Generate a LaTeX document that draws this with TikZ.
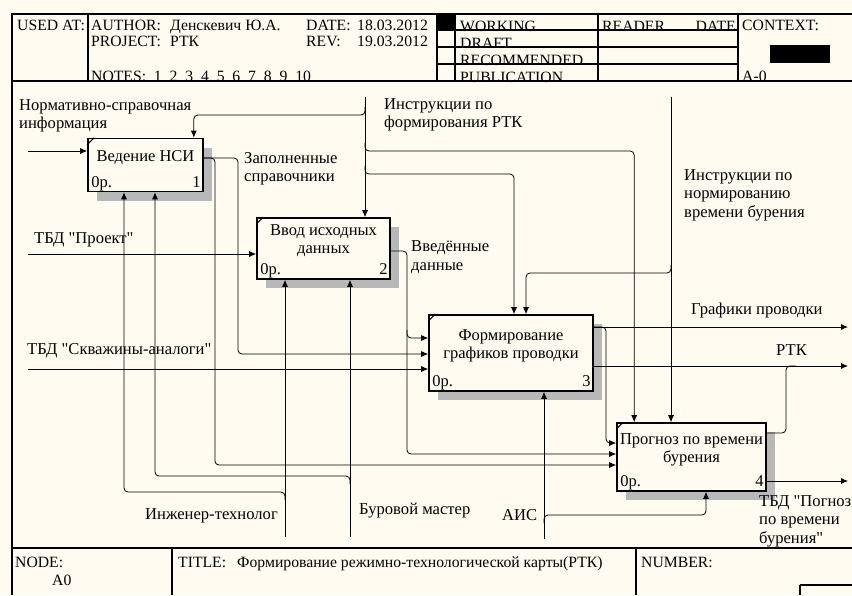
\documentclass[tikz,border=0pt]{standalone}
\usepackage{fontspec}
\setmainfont{Liberation Serif}[Ligatures=TeXOff]
\usetikzlibrary{arrows.meta,shadows}
\definecolor{paper}{RGB}{255,251,240}

\begin{document}
\begin{tikzpicture}[x=1pt,y=-1pt,
    act/.style={draw,line width=1.6pt,fill=paper,inner sep=0pt,
      general shadow={shadow xshift=9pt,shadow yshift=-9pt,fill=black!28}},
    acttext/.style={align=center,inner sep=0pt,font=\fontsize{16.5}{18}\selectfont},
    actno/.style={inner sep=0pt,font=\fontsize{16.5}{18}\selectfont},
    lbl/.style={anchor=west,align=left,inner sep=0pt,font=\fontsize{16.6}{18.5}\selectfont},
    hdr/.style={anchor=base west,inner sep=0pt,font=\fontsize{15.7}{16}\selectfont},
    arr/.style={line width=0.8pt,rounded corners=4pt,-{Latex[length=7pt,width=6pt]}},
    link/.style={line width=0.8pt,rounded corners=4pt},
    frame/.style={line width=1.2pt}]
          \useasboundingbox (0,0) rectangle (852,595);
          \fill[paper] (0,0) rectangle (852,595);

          % header
          \draw[frame] (12,595) -- (12,14) -- (852,14);
          \draw[frame] (12,81) -- (852,81);
          \draw[frame] (88,14) -- (88,81);
          \draw[frame] (437,14) -- (437,81);
          \draw[frame] (455,14) -- (455,81);
          \draw[frame] (598,14) -- (598,81);
          \draw[frame] (738,14) -- (738,81);
          \draw[frame] (437,30) -- (738,30);
          \draw[frame] (437,47) -- (738,47);
          \draw[frame] (437,64) -- (738,64);
          \fill (437,14) rectangle (455,30);
          \fill (770,45) rectangle (830,63);
          \node[hdr] (usedat) at (17,30) {USED AT:};
          \node[hdr] (author) at (91,30) {AUTHOR:};
          \node[hdr] (authorv) at (170,30) {Денскевич Ю.А.};
          \node[hdr] (project) at (91,46) {PROJECT:};
          \node[hdr] (projectv) at (170,46) {РТК};
          \node[hdr] (date) at (306,30) {DATE:};
          \node[hdr] (datev) at (357,30) {18.03.2012};
          \node[hdr] (rev) at (306,46) {REV:};
          \node[hdr] (revv) at (357,46) {19.03.2012};
          \node[hdr] (notes) at (91,81) {NOTES:\ \ 1\ \ 2\ \ 3\ \ 4\ \ 5\ \ 6\ \ 7\ \ 8\ \ 9\ \ 10};
          \node[hdr] (working) at (460,31) {WORKING};
          \node[hdr] (draft) at (460,48) {DRAFT};
          \node[hdr] (recom) at (460,65) {RECOMMENDED};
          \node[hdr] (publ) at (460,82) {PUBLICATION};
          \node[hdr] (reader) at (602,31) {READER};
          \node[hdr,anchor=base east] (rdate) at (736,31) {DATE};
          \node[hdr] (context) at (742,30) {CONTEXT:};
          \node[hdr] (ctxnode) at (742,81) {A-0};
          \draw[frame] (12,81) -- (852,81);

          % footer
          \draw[frame] (12,548) -- (852,548);
          \draw[frame] (172,548) -- (172,595);
          \draw[frame] (636,548) -- (636,595);
          \draw[frame] (800,585) -- (852,585);
          \draw[frame] (800,585) -- (800,595);
          \node[hdr] (node) at (15,567) {NODE:};
          \node[hdr] (nodev) at (52,585) {A0};
          \node[hdr] (title) at (178,567) {TITLE:};
          \node[hdr] (titlev) at (237,567) {Формирование режимно-технологической карты(РТК)};
          \node[hdr] (number) at (641,567) {NUMBER:};

          % activities
          \node[act,minimum width=115pt,minimum height=53pt] (nsi) at (145.5,165) {};
          \node[act,minimum width=133pt,minimum height=61pt] (vvod) at (323.5,248.5) {};
          \node[act,minimum width=164pt,minimum height=76pt] (graf) at (511,353) {};
          \node[act,minimum width=149pt,minimum height=68pt] (prog) at (691.5,457) {};

          \node[acttext] (nsiT) at ([yshift=7.5pt]nsi.center) {Ведение НСИ};
          \node[acttext] (vvodT) at ([yshift=7.5pt]vvod.center) {Ввод исходных\\данных};
          \node[acttext] (grafT) at ([yshift=7.5pt]graf.center) {Формирование\\графиков проводки};
          \node[acttext] (progT) at ([yshift=7.5pt]prog.center) {Прогноз по времени\\бурения};

          \node[actno,anchor=base west] (nsiC) at ([shift={(4pt,5pt)}]nsi.south west) {0р.};
          \node[actno,anchor=base east] (nsiN) at ([shift={(-3pt,5pt)}]nsi.south east) {1};
          \node[actno,anchor=base west] (vvodC) at ([shift={(4pt,5pt)}]vvod.south west) {0р.};
          \node[actno,anchor=base east] (vvodN) at ([shift={(-3pt,5pt)}]vvod.south east) {2};
          \node[actno,anchor=base west] (grafC) at ([shift={(4pt,5pt)}]graf.south west) {0р.};
          \node[actno,anchor=base east] (grafN) at ([shift={(-3pt,5pt)}]graf.south east) {3};
          \node[actno,anchor=base west] (progC) at ([shift={(4pt,5pt)}]prog.south west) {0р.};
          \node[actno,anchor=base east] (progN) at ([shift={(-3pt,5pt)}]prog.south east) {4};

          \draw[line width=1pt] ([yshift=-7pt]nsi.north west) -- ([xshift=7pt]nsi.north west);
          \draw[line width=1pt] ([yshift=-7pt]vvod.north west) -- ([xshift=7pt]vvod.north west);
          \draw[line width=1pt] ([yshift=-7pt]graf.north west) -- ([xshift=7pt]graf.north west);
          \draw[line width=1pt] ([yshift=-7pt]prog.north west) -- ([xshift=7pt]prog.north west);

          % inputs
          \coordinate (nsiIn) at (28,151);
          \coordinate (projIn) at (28,254);
          \coordinate (analIn) at (28,369);
          \draw[arr] (nsiIn) -- (nsi.west |- nsiIn);
          \draw[arr] (projIn) -- (vvod.west |- projIn);
          \draw[arr] (analIn) -- (graf.west |- analIn);

          % controls
          \coordinate (rtkCtl) at (365,97);
          \coordinate (normCtl) at (671,97);
          \coordinate (j1) at (365,115);
          \coordinate (j2) at (365,151);
          \coordinate (j3) at (365,174);
          \coordinate (j4) at (671,273);
          \draw[arr] (rtkCtl) -- (vvod.north -| rtkCtl);
          \draw[arr] ([yshift=8pt]j1) -- (j1) -| ([xshift=-10pt]nsi.north east);
          \draw[arr] ([yshift=8pt]j2) -- (j2) -| ([xshift=18pt]prog.north west);
          \draw[arr] ([yshift=8pt]j3) -- (j3) -| ([xshift=3pt]graf.north);
          \draw[arr] (normCtl) -- (prog.north -| normCtl);
          \draw[arr] ([yshift=8pt]j4) -- (j4) -| ([xshift=15pt]graf.north);

          % outputs
          \coordinate (nsiOut) at ([yshift=7pt]nsi.east);
          \coordinate (vvodOut) at ([yshift=-2.5pt]vvod.east);
          \coordinate (grafOut) at ([yshift=26pt]graf.east);
          \coordinate (grafRtk) at ([yshift=-13pt]graf.east);
          \coordinate (progOut) at ([yshift=24pt]prog.east);
          \coordinate (progBd) at ([yshift=-24pt]prog.east);
          \coordinate (d1) at (238,354);
          \coordinate (d2) at (215,465);
          \coordinate (d3) at (407,454);
          \coordinate (d4) at (407,338);
          \coordinate (d5) at (606,443);
          \coordinate (d6) at (786,366);
          \coordinate (grafEnd) at (848,327);
          \coordinate (rtkEnd) at (848,366);
          \coordinate (bdEnd) at (848,481);
          \draw[arr] (nsiOut) -| (d1) -- (graf.west |- d1);
          \draw[arr] (nsiOut) -| (d2) -- (prog.west |- d2);
          \draw[arr] (vvodOut) -| (d3) -- (prog.west |- d3);
          \draw[arr] ([yshift=8pt]d4) -- (d4) -- (graf.west |- d4);
          \draw[arr] (grafOut) -- (grafEnd);
          \draw[arr] (grafOut) -| (d5) -- (prog.west |- d5);
          \draw[arr] (grafRtk) -- (rtkEnd);
          \draw[link] (progOut) -| (d6) -- ([xshift=10pt]d6);
          \draw[arr] (progBd) -- (bdEnd);

          % mechanisms
          \coordinate (engMech) at (285,537);
          \coordinate (drillMech) at (350,537);
          \coordinate (aisMech) at (544,539);
          \coordinate (m1) at (285,492);
          \coordinate (m2) at (350,476);
          \coordinate (m3) at (544,515);
          \draw[arr] (engMech) -- (vvod.south -| engMech);
          \draw[arr] ([yshift=-8pt]m1) -- (m1) -| ([xshift=-21.5pt]nsi.south);
          \draw[arr] (drillMech) -- (vvod.south -| drillMech);
          \draw[arr] ([yshift=-8pt]m2) -- (m2) -| ([xshift=9.5pt]nsi.south);
          \draw[arr] (aisMech) -- (graf.south -| aisMech);
          \draw[arr] ([yshift=-8pt]m3) -- (m3) -| ([xshift=14.5pt]prog.south);

          % labels
          \node[lbl] (nsiInL) at (19,116) {Нормативно-справочная\\информация};
          \node[lbl] (projInL) at (34,240) {ТБД "Проект"};
          \node[lbl] (analInL) at (27,351) {ТБД "Скважины-аналоги"};
          \node[lbl] (rtkCtlL) at (384,115) {Инструкции по\\формирования РТК};
          \node[lbl] (normCtlL) at (684,195) {Инструкции по\\нормированию\\времени бурения};
          \node[lbl] (nsiOutL) at (244,169) {Заполненные\\справочники};
          \node[lbl] (vvodOutL) at (411,257) {Введённые\\данные};
          \node[lbl] (grafOutL) at (691,311) {Графики проводки};
          \node[lbl] (rtkL) at (776,350) {РТК};
          \node[lbl] (bdL) at (759,521) {ТБД "Погноз\\по времени\\бурения"};
          \node[lbl] (engL) at (145,516) {Инженер-технолог};
          \node[lbl] (drillL) at (359,511) {Буровой мастер};
          \node[lbl] (aisL) at (502,515) {АИС};
         \end{tikzpicture}
\end{document}
